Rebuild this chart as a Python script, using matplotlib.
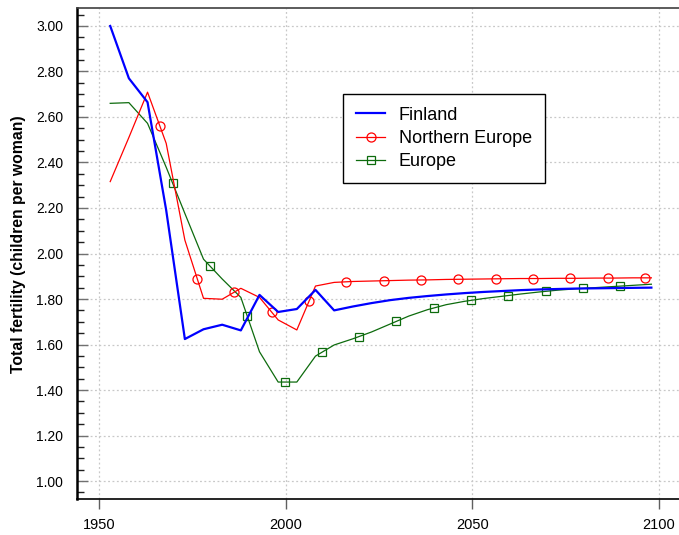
import numpy as np
import matplotlib
matplotlib.use("Agg")
import matplotlib.pyplot as plt
from matplotlib.lines import Line2D
from matplotlib.ticker import MultipleLocator, FixedLocator

plt.rcParams['font.family'] = ['Liberation Sans', 'DejaVu Sans']

years = [1953, 1958, 1963, 1968, 1973, 1978, 1983, 1988, 1993, 1998,
         2003, 2008, 2013, 2018, 2023, 2028, 2033, 2038, 2043, 2048,
         2053, 2058, 2063, 2068, 2073, 2078, 2083, 2088, 2093, 2098]

finland = [3.00, 2.77, 2.665, 2.19, 1.624, 1.667, 1.687, 1.662, 1.818, 1.743,
           1.756, 1.84, 1.75, 1.767, 1.782, 1.795, 1.805, 1.813, 1.82, 1.826,
           1.831, 1.835, 1.839, 1.842, 1.844, 1.846, 1.847, 1.848, 1.849, 1.850]

northern_europe = [2.316, 2.51, 2.709, 2.484, 2.059, 1.803, 1.799, 1.847, 1.807, 1.708,
                   1.664, 1.857, 1.873, 1.877, 1.879, 1.881, 1.883, 1.884, 1.886, 1.887,
                   1.888, 1.889, 1.890, 1.890, 1.891, 1.891, 1.892, 1.892, 1.893, 1.893]

europe = [2.660, 2.663, 2.572, 2.379, 2.176, 1.975, 1.888, 1.807, 1.568, 1.435,
          1.435, 1.549, 1.598, 1.625, 1.655, 1.69, 1.725, 1.753, 1.775, 1.79,
          1.802, 1.812, 1.822, 1.831, 1.839, 1.845, 1.850, 1.855, 1.860, 1.865]

series_names = ["Finland", "Northern Europe", "Europe"]
x_ticks = [1950, 2000, 2050, 2100]
y_ticks = [1.00, 1.20, 1.40, 1.60, 1.80, 2.00, 2.20, 2.40, 2.60, 2.80, 3.00]
y_label = "Total fertility (children per woman)"

BLUE = "#0000ff"
RED = "#ff0000"
GREEN = "#0d6b0d"

fig = plt.figure(figsize=(6.79, 5.35), dpi=100)
ax = fig.add_axes([77/679, 1 - 499/535, 1 - 77/679, (499 - 8)/535])

yrs = np.array(years, dtype=float)

ax.plot(yrs, finland, color=BLUE, lw=1.6, zorder=4)
ax.plot(yrs, northern_europe, color=RED, lw=0.9, zorder=3)
ax.plot(yrs, europe, color=GREEN, lw=0.9, zorder=2)

# markers placed at regular intervals along the lines
circ_x = np.arange(1966.3, yrs[-1], 10.0)
sq_x = np.arange(1969.7, yrs[-1], 10.0)
ax.plot(circ_x, np.interp(circ_x, yrs, northern_europe), ls='none', marker='o',
        ms=6.5, mfc='none', mec=RED, mew=0.9, zorder=3)
ax.plot(sq_x, np.interp(sq_x, yrs, europe), ls='none', marker='s',
        ms=6, mfc='none', mec=GREEN, mew=0.9, zorder=2)

ax.set_xlim(1944.1, 2105.4)
ax.set_ylim(0.921, 3.079)

ax.xaxis.set_major_locator(FixedLocator(x_ticks))
ax.yaxis.set_major_locator(FixedLocator(y_ticks))
ax.yaxis.set_minor_locator(MultipleLocator(0.05))
ax.set_yticklabels([f"{v:.2f}" for v in y_ticks])
ax.set_xticklabels([str(v) for v in x_ticks])

ax.tick_params(axis='x', which='major', direction='out', length=7, width=1,
               color='#606060', labelsize=10.5, pad=7)
ax.tick_params(axis='y', which='major', direction='in', length=8, width=1,
               color='#707070', labelsize=10, pad=10)
ax.tick_params(axis='y', which='minor', direction='in', length=5, width=1,
               color='#202020')
ax.tick_params(axis='x', which='minor', bottom=False)

ax.grid(True, which='major', color='#c8c8c8', ls=(0, (1.5, 2)), lw=0.9)
ax.set_axisbelow(True)

ax.spines['right'].set_visible(False)
ax.spines['left'].set_linewidth(1.8)
ax.spines['bottom'].set_linewidth(1.2)
ax.spines['top'].set_linewidth(1.2)
ax.spines['top'].set_color('#404040')

ax.set_ylabel(y_label, fontsize=11.3, fontweight='bold', va='center')
ax.yaxis.set_label_coords(-0.098, 0.519)

handles = [
    Line2D([], [], color=BLUE, lw=1.6),
    Line2D([], [], color=RED, lw=0.9, marker='o', ms=6.5, mfc='none', mec=RED, mew=0.9),
    Line2D([], [], color=GREEN, lw=0.9, marker='s', ms=6, mfc='none', mec=GREEN, mew=0.9),
]
leg = ax.legend(handles, series_names, loc='upper left',
                bbox_to_anchor=(266/602, 405/491), fontsize=13,
                frameon=True, fancybox=False, framealpha=1, edgecolor='black',
                borderpad=0.7, labelspacing=0.35, handlelength=1.65,
                handletextpad=0.75, borderaxespad=0)
leg.get_frame().set_linewidth(1.0)

fig.savefig("out.png", dpi=100)
